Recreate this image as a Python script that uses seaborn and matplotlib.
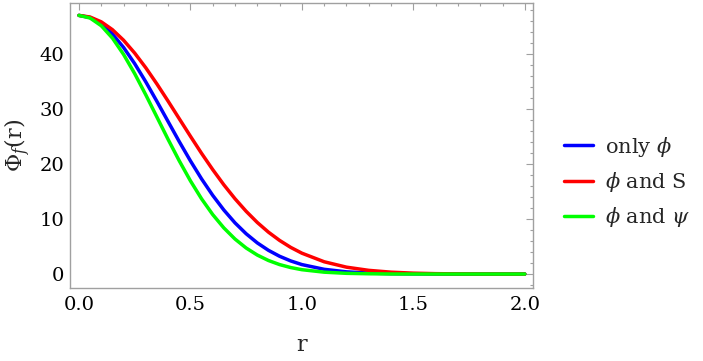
import numpy as np
import pandas as pd
import matplotlib
matplotlib.use("Agg")
import matplotlib.pyplot as plt
from matplotlib.ticker import MultipleLocator, FormatStrFormatter
import seaborn as sns

# values
r = [0.0, 0.05, 0.1, 0.15, 0.2, 0.25, 0.3, 0.35, 0.4, 0.45, 0.5, 0.55, 0.6, 0.65,
     0.7, 0.75, 0.8, 0.85, 0.9, 0.95, 1.0, 1.1, 1.2, 1.3, 1.4, 1.5, 1.6, 1.7,
     1.8, 1.9, 2.0]
only_phi = [47.0, 46.61, 45.47, 43.63, 41.18, 38.23, 34.91, 31.35, 27.70, 24.06,
            20.57, 17.29, 14.30, 11.63, 9.30, 7.32, 5.66, 4.31, 3.23, 2.38, 1.72,
            0.86, 0.40, 0.18, 0.07, 0.03, 0.01, 0.0, 0.0, 0.0, 0.0]
phi_and_S = [47.0, 46.70, 45.83, 44.41, 42.49, 40.15, 37.47, 34.52, 31.41, 28.22,
             25.04, 21.93, 18.98, 16.21, 13.68, 11.40, 9.37, 7.61, 6.11, 4.84, 3.79,
             2.23, 1.25, 0.67, 0.34, 0.16, 0.07, 0.03, 0.01, 0.0, 0.0]
phi_and_psi = [47.0, 46.52, 45.12, 42.88, 39.92, 36.42, 32.55, 28.51, 24.46, 20.57,
               16.94, 13.67, 10.81, 8.38, 6.36, 4.73, 3.45, 2.46, 1.72, 1.18, 0.79,
               0.34, 0.13, 0.05, 0.01, 0.0, 0.0, 0.0, 0.0, 0.0, 0.0]
labels = [r"only $\phi$", r"$\phi$ and S", r"$\phi$ and $\psi$"]
colors = ["#0000ff", "#ff0000", "#00ff00"]

df = pd.concat([
    pd.DataFrame({"r": r, "val": v, "case": lab})
    for v, lab in zip([only_phi, phi_and_S, phi_and_psi], labels)
])

sns.set_style("white")
plt.rcParams["font.family"] = ["DejaVu Serif"]
plt.rcParams["mathtext.fontset"] = "dejavuserif"

fig, ax = plt.subplots(figsize=(7.03, 3.61), dpi=100)
plt.subplots_adjust(left=0.0996, right=0.758, top=0.992, bottom=0.202)

sns.lineplot(data=df, x="r", y="val", hue="case", palette=dict(zip(labels, colors)),
             linewidth=2.5, ax=ax, sort=False)

ax.set_xlim(-0.04, 2.036)
ax.set_ylim(-2.55, 49.27)
ax.xaxis.set_major_locator(MultipleLocator(0.5))
ax.xaxis.set_minor_locator(MultipleLocator(0.1))
ax.yaxis.set_major_locator(MultipleLocator(10))
ax.yaxis.set_minor_locator(MultipleLocator(2))
ax.xaxis.set_major_formatter(FormatStrFormatter("%.1f"))

frame = "#a0a0a0"
for s in ax.spines.values():
    s.set_color(frame)
    s.set_linewidth(1.0)
ax.tick_params(which="both", direction="in", color=frame, top=True, right=True,
               labelsize=14, labelcolor="black", width=0.8)
ax.tick_params(which="major", length=5)
ax.tick_params(which="minor", length=2.5)
ax.tick_params(axis="x", which="major", pad=6)
ax.tick_params(axis="y", which="major", pad=4)

ax.set_xlabel("r", fontsize=16, labelpad=14)
ax.set_ylabel(r"$\Phi_f(\mathrm{r})$", fontsize=16, labelpad=5)

ax.legend(loc="center left", bbox_to_anchor=(1.026, 0.372), frameon=False,
          fontsize=15, handlelength=1.4, labelspacing=0.55, handletextpad=0.6)

plt.savefig("out.png", dpi=100)
